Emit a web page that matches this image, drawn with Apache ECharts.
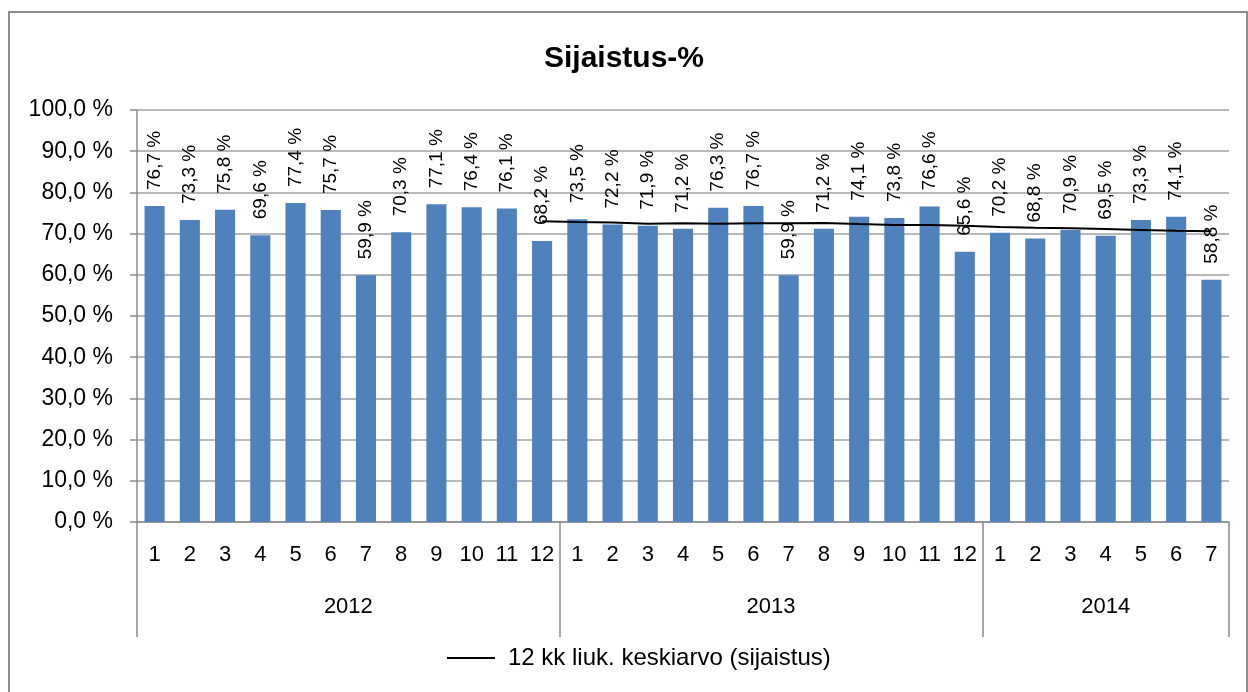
<!DOCTYPE html>
<html>
<head>
<meta charset="utf-8">
<script src="https://cdn.jsdelivr.net/npm/echarts@6/dist/echarts.min.js"></script>
<style>
html,body{margin:0;padding:0;background:#fff;}
#wrap{position:relative;width:1248px;height:692px;overflow:hidden;}
#chart{width:1248px;height:692px;}
#frame{position:absolute;left:8px;top:11px;width:1236px;height:700px;border:2px solid #8c8c8c;pointer-events:none;}
</style>
</head>
<body>
<div id="wrap"><div id="chart"></div><div id="frame"></div></div>
<script>
const months = ['1','2','3','4','5','6','7','8','9','10','11','12',
                '1','2','3','4','5','6','7','8','9','10','11','12',
                '1','2','3','4','5','6','7'];
const years = ['2012','2013','2014'];
const yearSpans = [12, 12, 7];
const sijaistus = [76.7,73.3,75.8,69.6,77.4,75.7,59.9,70.3,77.1,76.4,76.1,68.2,
                   73.5,72.2,71.9,71.2,76.3,76.7,59.9,71.2,74.1,73.8,76.6,65.6,
                   70.2,68.8,70.9,69.5,73.3,74.1,58.8];
const liukuva = [null,null,null,null,null,null,null,null,null,null,null,73.0,
                 72.8,72.7,72.4,72.5,72.4,72.5,72.5,72.6,72.3,72.1,72.1,71.9,
                 71.6,71.4,71.3,71.1,70.9,70.7,70.6];
const yTicks = [0,10,20,30,40,50,60,70,80,90,100];
const lineName = '12 kk liuk. keskiarvo (sijaistus)';
const titleText = 'Sijaistus-%';

const FONT = 'Liberation Sans';
const fmt = v => v.toFixed(1).replace('.', ',') + ' %';

// year boundaries & centres derived from spans
const bounds = [0];
yearSpans.forEach(s => bounds.push(bounds[bounds.length-1] + s));
const centres = yearSpans.map((s, i) => bounds[i] + s / 2);

const chart = echarts.init(document.getElementById('chart'), null, {renderer:'canvas'});
chart.setOption({
  backgroundColor: '#fff',
  animation: false,
  title: {
    text: titleText, left: 'center', top: 39,
    textStyle: {fontFamily: FONT, fontSize: 30, fontWeight: 'bold', color: '#000'}
  },
  legend: {
    data: [lineName], bottom: 17, left: 442,
    icon: 'rect', itemWidth: 48, itemHeight: 2, itemGap: 12,
    textStyle: {fontFamily: FONT, fontSize: 24, color: '#000', padding: [0, 0, 0, 8]}
  },
  grid: {left: 137, right: 19, top: 110, bottom: 170, containLabel: false},
  xAxis: [
    {
      type: 'category', data: months, position: 'bottom',
      axisLine: {show: true, lineStyle: {color: '#8c8c8c', width: 1.5}},
      axisTick: {show: false},
      axisLabel: {interval: 0, margin: 22, fontFamily: FONT, fontSize: 22, color: '#000'},
      splitLine: {show: false}
    },
    {
      type: 'value', min: 0, max: bounds[bounds.length-1], position: 'bottom',
      axisLine: {show: false},
      axisTick: {show: true, customValues: bounds, length: 115, inside: false,
                 lineStyle: {color: '#8c8c8c', width: 1.5}},
      axisLabel: {customValues: centres, margin: 74, fontFamily: FONT, fontSize: 22, color: '#000',
                  formatter: v => { const i = centres.indexOf(v); return i >= 0 ? years[i] : ''; }},
      splitLine: {show: false}
    }
  ],
  yAxis: {
    type: 'value', min: 0, max: 100, interval: 10,
    axisLine: {show: true, lineStyle: {color: '#8c8c8c', width: 1.5}},
    axisTick: {show: true, length: 7, lineStyle: {color: '#8c8c8c', width: 1.5}},
    axisLabel: {margin: 24, fontFamily: FONT, fontSize: 23, color: '#000', formatter: fmt},
    splitLine: {show: true, lineStyle: {color: '#a0a0a0', width: 1.5}}
  },
  series: [
    {
      name: 'Sijaistus', type: 'bar', xAxisIndex: 0, data: sijaistus,
      barWidth: '57%',
      itemStyle: {color: '#4F81BD'},
      label: {
        show: true, position: 'top', rotate: 90, align: 'left', verticalAlign: 'middle',
        distance: 16, fontFamily: FONT, fontSize: 19, color: '#000',
        formatter: p => fmt(p.value)
      },
      z: 2
    },
    {
      name: lineName, type: 'line', xAxisIndex: 0, data: liukuva,
      showSymbol: false, symbol: 'none', connectNulls: false,
      lineStyle: {color: '#000', width: 2},
      itemStyle: {color: '#000'},
      z: 3
    }
  ]
});
</script>
</body>
</html>
